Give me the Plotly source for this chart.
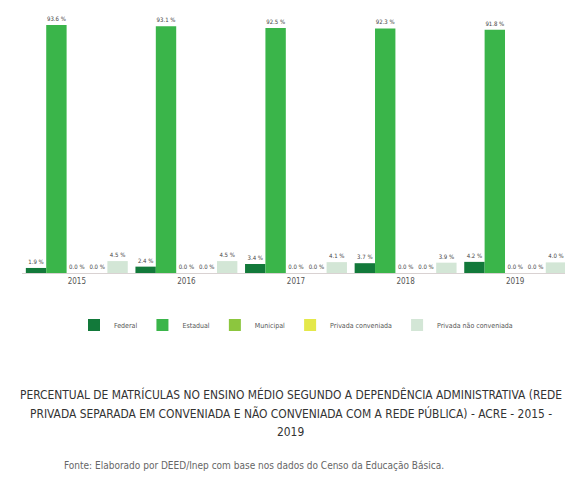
import plotly.graph_objects as go

anos = ["2015", "2016", "2017", "2018", "2019"]
federal = [1.9, 2.4, 3.4, 3.7, 4.2]
estadual = [93.6, 93.1, 92.5, 92.3, 91.8]
municipal = [0.0, 0.0, 0.0, 0.0, 0.0]
privada_conveniada = [0.0, 0.0, 0.0, 0.0, 0.0]
privada_nao_conveniada = [4.5, 4.5, 4.1, 3.9, 4.0]

series = [
    ("Federal", federal, "#12793a"),
    ("Estadual", estadual, "#3ab54a"),
    ("Municipal", municipal, "#8cc63e"),
    ("Privada conveniada", privada_conveniada, "#e4e84a"),
    ("Privada não conveniada", privada_nao_conveniada, "#d3e6d6"),
]

FONT = "Liberation Sans Narrow, Arial Narrow, DejaVu Sans Condensed, Liberation Sans, sans-serif"

fig = go.Figure()
for nome, vals, cor in series:
    fig.add_trace(go.Bar(
        name=nome, x=anos, y=vals,
        marker=dict(color=cor, line=dict(width=0)),
        text=[f"{v:.1f} %" for v in vals],
        textposition="outside", cliponaxis=False,
        textfont=dict(size=6, color="#444444", family=FONT),
    ))

fig.update_layout(
    width=565, height=471,
    paper_bgcolor="white", plot_bgcolor="white",
    margin=dict(l=14, r=3, t=0, b=206),
    barmode="group", bargap=0.07, bargroupgap=0.0,
    showlegend=True,
    legend=dict(orientation="h", x=0.5, xanchor="center", y=-0.196, yanchor="middle",
                font=dict(size=7, color="#555555", family=FONT),
                itemwidth=30, itemsizing="constant", traceorder="normal"),
    xaxis=dict(showline=True, linecolor="#d9d2d2", linewidth=1, showgrid=False,
               ticks="", tickfont=dict(size=8, color="#555555", family=FONT)),
    yaxis=dict(range=[0, 100], visible=False, showgrid=False),
    font=dict(family=FONT),
)

linhas = [
    ("PERCENTUAL DE MATRÍCULAS NO ENSINO MÉDIO SEGUNDO A DEPENDÊNCIA ADMINISTRATIVA (REDE", -0.460),
    ("PRIVADA SEPARADA EM CONVENIADA E NÃO CONVENIADA COM A REDE PÚBLICA) - ACRE - 2015 -", -0.532),
    ("2019", -0.600),
]
for txt, yy in linhas:
    fig.add_annotation(text=txt, xref="paper", yref="paper", x=0.49, y=yy, yanchor="middle",
                       xanchor="center", showarrow=False, align="center",
                       font=dict(size=11.9, color="#333333", family=FONT))
fig.add_annotation(text="Fonte: Elaborado por DEED/Inep com base nos dados do Censo da Educação Básica.",
                   xref="paper", yref="paper", x=0.073, y=-0.725, xanchor="left", yanchor="middle",
                   showarrow=False,
                   font=dict(size=10, color="#666666", family=FONT))

fig.write_html("out.html")
